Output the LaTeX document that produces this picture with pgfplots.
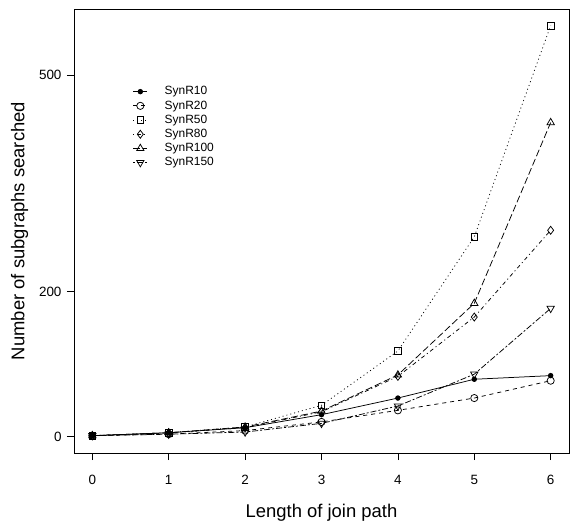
\documentclass[border=0pt]{standalone}
\usepackage{pgfplots}
\pgfplotsset{compat=1.18}
\usepackage{fontspec}
\setmainfont{Liberation Sans}

\begin{document}
\begin{tikzpicture}
  \begin{axis}[
      scale only axis,
      width=495bp, height=444bp,
      xmin=-0.24, xmax=6.24,
      ymin=-23, ymax=591,
      xtick={0,1,2,3,4,5,6},
      ytick={0,200,500},
      xtick pos=left, ytick pos=left,
      tick align=outside,
      major tick length=7bp,
      tick style={black, line width=0.6bp},
      axis line style={black, line width=0.6bp},
      /pgf/number format/assume math mode=true,
      ticklabel style={font=\fontsize{13.5}{16}\selectfont},
      xticklabel style={yshift=-12bp},
      yticklabel style={xshift=-2bp},
      xlabel={Length of join path},
      ylabel={Number of subgraphs searched},
      label style={font=\fontsize{18.5}{22}\selectfont},
      xlabel style={yshift=-12bp},
      ylabel style={yshift=4bp},
      mark size=3.6bp,
      legend cell align=left,
      legend style={
        at={(axis cs:0.49,487)}, anchor=north west,
        draw=none, fill=none,
        font=\fontsize{12}{14}\selectfont,
        column sep=17bp,
        row sep=3.7bp,
        nodes={inner sep=0pt, text height=8.5bp, text depth=2bp},
      },
      legend image code/.code={
        \draw[mark repeat=2,mark phase=2]
          plot coordinates {(0bp,0bp) (7bp,0bp) (14bp,0bp)};
      },
    ]
    % SynR10
    \addplot[black, line width=0.75bp, solid, mark=*, mark size=2.3bp, mark options={solid, fill=black}]
      coordinates {(0,1) (1,5) (2,12) (3,30) (4,53) (5,79) (6,84)};
    % SynR20
    \addplot[black, line width=0.75bp, dash pattern=on 4bp off 4bp, mark=o, mark options={solid}]
      coordinates {(0,1) (1,3) (2,8) (3,20) (4,36) (5,53) (6,77)};
    % SynR50
    \addplot[black, line width=0.75bp, dash pattern=on 1bp off 3bp, mark=square, mark size=3.3bp, mark options={solid}]
      coordinates {(0,1) (1,5) (2,13) (3,43) (4,118) (5,276) (6,568)};
    % SynR80
    \addplot[black, line width=0.75bp, dash pattern=on 1bp off 3bp on 4bp off 3bp, mark=diamond, mark size=4bp, mark options={solid}]
      coordinates {(0,1) (1,5) (2,12) (3,34) (4,83) (5,165) (6,285)};
    % SynR100
    \addplot[black, line width=0.75bp, dash pattern=on 7bp off 3bp, mark=triangle, mark size=4.2bp, mark options={solid}]
      coordinates {(0,1) (1,5) (2,13) (3,35) (4,85) (5,184) (6,434)};
    % SynR150
    \addplot[black, line width=0.75bp, dash pattern=on 2bp off 2bp on 6bp off 2bp, mark=triangle, mark size=4.2bp, mark options={solid, rotate=180}]
      coordinates {(0,1) (1,3) (2,6) (3,18) (4,42) (5,86) (6,177)};
    \legend{SynR10, SynR20, SynR50, SynR80, SynR100, SynR150}
  \end{axis}
  \path ([shift={(-74bp,-71bp)}]current axis.south west)
    rectangle ([shift={(1bp,9bp)}]current axis.north east);
\end{tikzpicture}
\end{document}
